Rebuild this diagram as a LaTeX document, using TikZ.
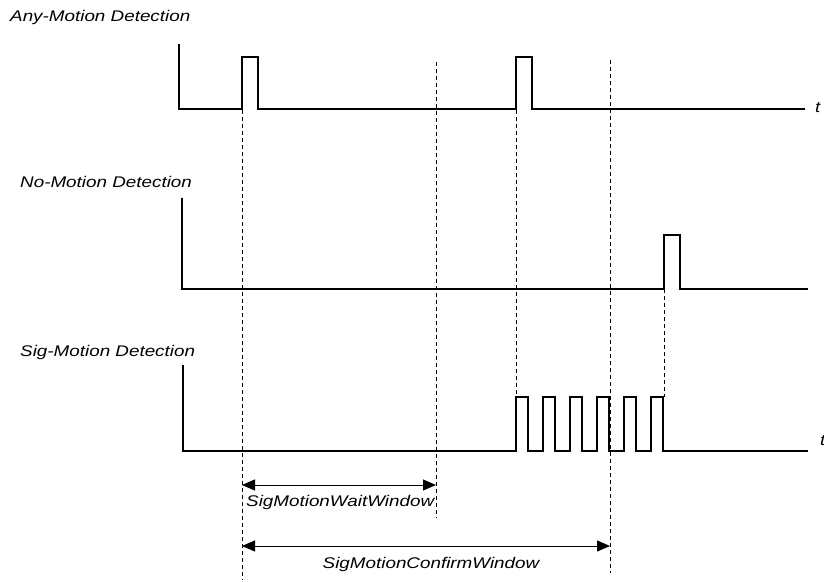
\documentclass[tikz,border=0pt]{standalone}
\usepackage{fontspec}
\setmainfont{Liberation Sans}
\newfontfamily\lblfont[FakeStretch=1.22]{Liberation Sans}
\usetikzlibrary{arrows.meta}
\begin{document}
\begin{tikzpicture}[x=1bp, y=-1bp, >={Triangle[length=13bp,width=11bp]},
  sig/.style={line width=1.8bp, line join=miter},
  vline/.style={line width=0.8bp, dash pattern=on 4bp off 3bp},
  lbl/.style={font=\lblfont\fontsize{15.5}{18}\selectfont\itshape, inner sep=0pt}]
\useasboundingbox (0,0) rectangle (824,582);
% any-motion
\node[lbl, anchor=west] (anyl) at (10,18) {Any-Motion Detection};
\draw[sig] (179,44) -- (179,109) -- (242,109) -- (242,57) -- (258,57) -- (258,109)
  -- (516,109) -- (516,57) -- (532,57) -- (532,109) -- (805,109);
\node[lbl, anchor=west] (t1) at (815,108) {t};
% no-motion
\node[lbl, anchor=west] (nol) at (20,182) {No-Motion Detection};
\draw[sig] (182,198) -- (182,289) -- (664,289) -- (664,235) -- (680,235) -- (680,289) -- (808,289);
% sig-motion
\node[lbl, anchor=west] (sigl) at (20,353) {Sig-Motion Detection};
\draw[sig] (183,365) -- (183,451)
  \foreach \x in {516,543,570,597,624,651} { -- (\x,451) -- (\x,397) -- (\x+12,397) -- (\x+12,451) }
  -- (808,451);
\node[lbl, anchor=west] (t3) at (820,441) {t};
% marker lines
\draw[vline] (242,110) -- (242,580);
\draw[vline] (436,62) -- (436,518);
\draw[vline] (516,110) -- (516,397);
\draw[vline] (610,60) -- (610,573);
\draw[vline] (664,289) -- (664,397);
% windows
\coordinate (wa) at (242,485);
\coordinate (wb) at (436,485);
\coordinate (ca) at (242,546);
\coordinate (cb) at (610,546);
\draw[<->, line width=1bp] (wa) -- (wb);
\node[lbl, anchor=west] (waitl) at (246,503) {SigMotionWaitWindow};
\draw[<->, line width=1bp] (ca) -- (cb);
\node[lbl] (confl) at (431,565) {SigMotionConfirmWindow};
\end{tikzpicture}
\end{document}
